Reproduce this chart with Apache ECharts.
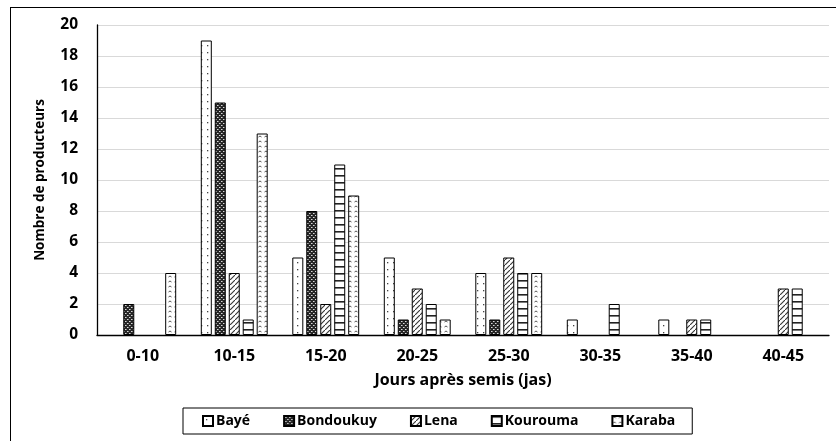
<!DOCTYPE html>
<html>
<head>
<meta charset="utf-8">
<script src="https://cdn.jsdelivr.net/npm/echarts@6/dist/echarts.min.js"></script>
<style>
html,body{margin:0;padding:0;background:#fff;}
#c{width:836px;height:441px;}
</style>
</head>
<body>
<div id="c"></div>
<script>
const categories = ['0-10','10-15','15-20','20-25','25-30','30-35','35-40','40-45'];
const seriesNames = ['Bayé','Bondoukuy','Lena','Kourouma','Karaba'];
const baye      = [0, 19, 5, 5, 4, 1, 1, 0];
const bondoukuy = [2, 15, 8, 1, 1, 0, 0, 0];
const lena      = [0, 4, 2, 3, 5, 0, 1, 3];
const kourouma  = [0, 1, 11, 2, 4, 2, 1, 3];
const karaba    = [4, 13, 9, 1, 4, 0, 0, 0];
const yTicks = [0,2,4,6,8,10,12,14,16,18,20];

function pat(w, h, draw) {
  const c = document.createElement('canvas');
  c.width = w; c.height = h;
  const ctx = c.getContext('2d');
  draw(ctx, w, h);
  return { image: c, repeat: 'repeat' };
}
const pBaye = pat(6, 7, (x) => {
  x.fillStyle = '#fff'; x.fillRect(0,0,6,7);
  x.fillStyle = '#444'; x.fillRect(3,3,1.3,1.3);
});
const pBond = pat(4, 4, (x) => {
  x.fillStyle = '#262626'; x.fillRect(0,0,4,4);
  x.fillStyle = '#d8d8d8'; x.fillRect(1,1,1,1); x.fillRect(3,3,1,1);
  x.fillStyle = '#888'; x.fillRect(2,1,1,1); x.fillRect(0,3,1,1);
});
const pLena = pat(5, 5, (x) => {
  x.fillStyle = '#fff'; x.fillRect(0,0,5,5);
  x.strokeStyle = '#333'; x.lineWidth = 1.1;
  x.beginPath(); x.moveTo(-1,6); x.lineTo(6,-1); x.stroke();
});
const pKour = pat(4, 7, (x) => {
  x.fillStyle = '#fff'; x.fillRect(0,0,4,7);
  x.fillStyle = '#222'; x.fillRect(0,0,4,1.6);
});
const pKara = pat(6, 5, (x) => {
  x.fillStyle = '#fff'; x.fillRect(0,0,6,5);
  x.strokeStyle = '#555'; x.lineWidth = 1;
  x.beginPath(); x.moveTo(0.5,2); x.lineTo(2,1); x.lineTo(3.5,2); x.stroke();
});

const fills = [pBaye, pBond, pLena, pKour, pKara];
const values = [baye, bondoukuy, lena, kourouma, karaba];

const chart = echarts.init(document.getElementById('c'), null, {renderer: 'canvas'});
const font = '"Open Sans", sans-serif';
chart.setOption({
  animation: false,
  textStyle: { fontFamily: font },
  grid: { left: 97, right: 7, top: 25, bottom: 106 },
  graphic: [
    { type: 'line', shape: { x1: 10.5, y1: 7, x2: 10.5, y2: 441 }, style: { stroke: '#000', lineWidth: 1 } },
    { type: 'line', shape: { x1: 10, y1: 7.5, x2: 836, y2: 7.5 }, style: { stroke: '#000', lineWidth: 1 } }
  ],
  legend: {
    data: seriesNames,
    left: 183, top: 408,
    padding: [6, 17, 6, 19],
    borderColor: '#000', borderWidth: 1,
    icon: 'rect', itemWidth: 10, itemHeight: 10, itemGap: 33,
    textStyle: { fontFamily: font, fontWeight: 'bold', fontSize: 14, color: '#000', padding: [0,0,0,-2] }
  },
  xAxis: {
    type: 'category', data: categories,
    axisLine: { lineStyle: { color: '#000', width: 1.3 } },
    axisTick: { show: false },
    axisLabel: { fontFamily: font, fontWeight: 'bold', fontSize: 16, color: '#000', margin: 13 },
    name: 'Jours après semis (jas)', nameLocation: 'middle', nameGap: 37,
    nameTextStyle: { fontFamily: font, fontWeight: 'bold', fontSize: 16, color: '#000' }
  },
  yAxis: {
    type: 'value', min: 0, max: 20, interval: 2,
    axisLine: { show: true, lineStyle: { color: '#000', width: 1.3 } },
    axisTick: { show: false },
    splitLine: { lineStyle: { color: '#d9d9d9', width: 1 } },
    axisLabel: { fontFamily: font, fontWeight: 'bold', fontSize: 15.5, color: '#000', margin: 19,
      formatter: (v) => yTicks.includes(v) ? String(v) : '' },
    name: 'Nombre de producteurs', nameLocation: 'middle', nameGap: 50, nameRotate: 90,
    nameTextStyle: { fontFamily: font, fontWeight: 'bold', fontSize: 13.5, color: '#000' }
  },
  series: seriesNames.map((n, i) => ({
    name: n, type: 'bar',
    data: values[i].map(v => v === 0 ? '-' : v),
    barWidth: 11, barGap: '27%',
    itemStyle: { color: fills[i], borderColor: '#000', borderWidth: 1 }
  }))
});
</script>
</body>
</html>
